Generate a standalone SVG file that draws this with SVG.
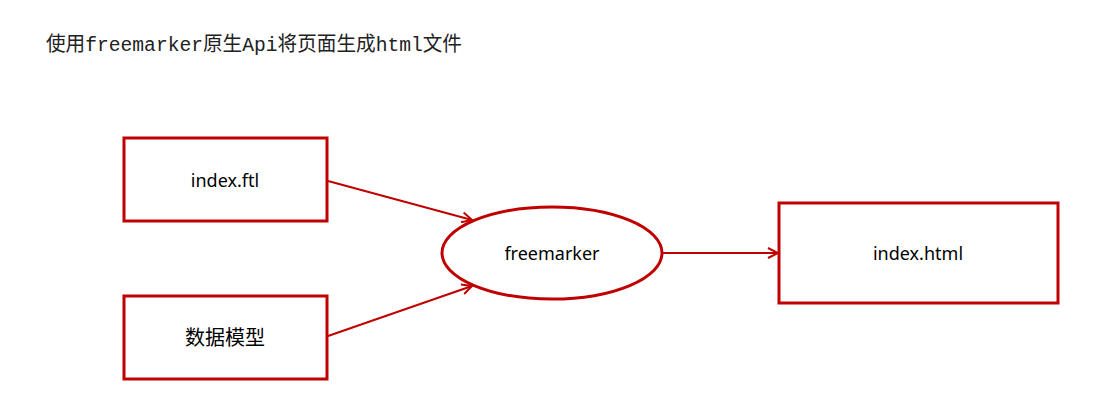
<svg xmlns="http://www.w3.org/2000/svg" width="1120" height="418" viewBox="0 0 1120 418">
<style>
.box{fill:#fff;stroke:#C00000;stroke-width:3}
.lbl{font-family:"Noto Sans","Liberation Sans","Noto Sans CJK SC",sans-serif;font-size:18px;fill:#000;text-anchor:middle;dominant-baseline:central}
.cn{font-family:"Noto Sans CJK SC",sans-serif;font-size:20px}
.edge{fill:none;stroke:#C00000;stroke-width:2}
.title{font-family:"Liberation Mono","Noto Sans CJK SC",monospace;font-size:20px;fill:#222}
</style>
<defs>
<marker id="arr" viewBox="0 0 12 12" refX="11" refY="6" markerWidth="12" markerHeight="12" markerUnits="userSpaceOnUse" orient="auto">
<path d="M1,1 L11,6 L1,11" fill="none" stroke="#C00000" stroke-width="2"/>
</marker>
</defs>
<rect width="1120" height="418" fill="#fff"/>
<text class="title" x="46" y="51" textLength="416" lengthAdjust="spacingAndGlyphs">使用freemarker原生Api将页面生成html文件</text>
<g id="connectors">
<line class="edge" x1="328" y1="181" x2="472" y2="220" marker-end="url(#arr)"/>
<line class="edge" x1="328" y1="336" x2="472" y2="286" marker-end="url(#arr)"/>
<line class="edge" x1="663" y1="253" x2="778" y2="253" marker-end="url(#arr)"/>
</g>
<g id="ftl">
<rect class="box" x="124" y="138" width="203" height="83"/>
<text class="lbl" x="225" y="180">index.ftl</text>
</g>
<g id="model">
<rect class="box" x="124" y="296" width="203" height="83"/>
<text class="lbl cn" x="225" y="336">数据模型</text>
</g>
<g id="freemarker">
<ellipse class="box" cx="552" cy="253" rx="110" ry="46"/>
<text class="lbl" x="552" y="253">freemarker</text>
</g>
<g id="html">
<rect class="box" x="779" y="203" width="279" height="100"/>
<text class="lbl" x="918" y="253">index.html</text>
</g>
</svg>
